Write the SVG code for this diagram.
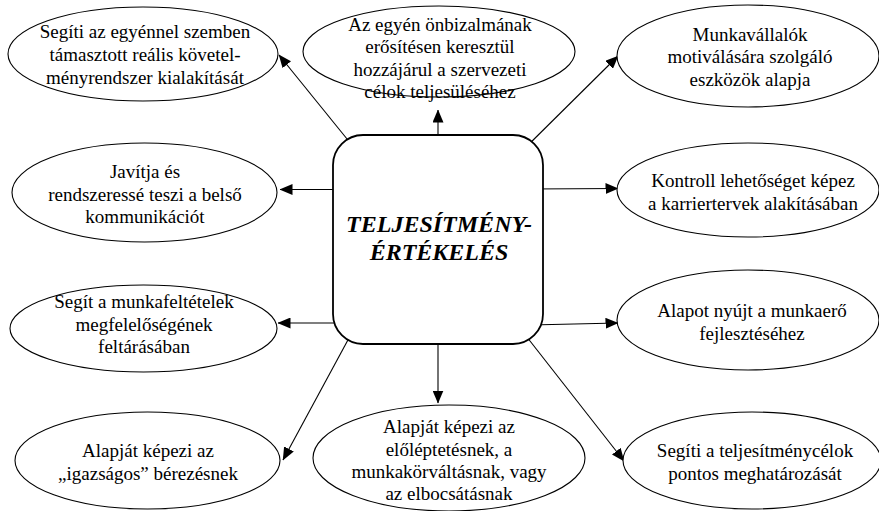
<svg xmlns="http://www.w3.org/2000/svg" width="879" height="511" viewBox="0 0 879 511">
<defs>
<marker id="ah" markerUnits="userSpaceOnUse" markerWidth="13" markerHeight="11" refX="12.5" refY="5.5" orient="auto">
<path d="M0,0 L13,5.5 L0,11 z" fill="#000"/>
</marker>
<style>
.n ellipse{fill:#fff;stroke:#000;stroke-width:1.1}
.n text{font-family:"Liberation Serif","Times New Roman",serif;font-size:19px;fill:#000;text-anchor:middle}
.c line{stroke:#000;stroke-width:1.1;marker-end:url(#ah)}
.box rect{fill:#fff;stroke:#000;stroke-width:1.8}
.box text{font-family:"Liberation Serif","Times New Roman",serif;font-size:24px;font-weight:bold;font-style:italic;fill:#000;text-anchor:middle}
</style>
</defs>
<rect width="879" height="511" fill="#fff"/>
<g id="connectors" class="c">
<line x1="360" y1="155" x2="279" y2="55"/>
<line x1="438" y1="150" x2="438" y2="110"/>
<line x1="515" y1="158" x2="618" y2="56"/>
<line x1="345" y1="189.5" x2="280" y2="189.5"/>
<line x1="530" y1="189" x2="618" y2="188.5"/>
<line x1="345" y1="323" x2="278" y2="323"/>
<line x1="530" y1="325" x2="618" y2="323"/>
<line x1="362" y1="314" x2="283" y2="460"/>
<line x1="438" y1="330" x2="438" y2="403"/>
<line x1="512" y1="318" x2="624" y2="461"/>
</g>
<g id="center" class="box">
<rect x="333" y="135" width="210" height="209" rx="30" ry="30"/>
<text x="439" y="232">TELJESÍTMÉNY-</text>
<text x="439" y="260">ÉRTÉKELÉS</text>
</g>
<g id="n1" class="n">
<ellipse cx="143" cy="54" rx="135" ry="47"/>
<text x="145" y="38">Segíti az egyénnel szemben</text>
<text x="145" y="61">támasztott reális követel-</text>
<text x="145" y="84">ményrendszer kialakítását</text>
</g>
<g id="n2" class="n">
<ellipse cx="439" cy="51.5" rx="136" ry="45.5"/>
<text x="440" y="30.5">Az egyén önbizalmának</text>
<text x="440" y="53">erősítésen keresztül</text>
<text x="440" y="75.5">hozzájárul a szervezeti</text>
<text x="440" y="98">célok teljesüléséhez</text>
</g>
<g id="n3" class="n">
<ellipse cx="748" cy="56" rx="131" ry="51"/>
<text x="750" y="40.5">Munkavállalók</text>
<text x="750" y="63">motiválására szolgáló</text>
<text x="750" y="85.5">eszközök alapja</text>
</g>
<g id="n4" class="n">
<ellipse cx="144.5" cy="192.5" rx="132.5" ry="49.5"/>
<text x="145" y="178">Javítja és</text>
<text x="145" y="200.5">rendszeressé teszi a belső</text>
<text x="145" y="223">kommunikációt</text>
</g>
<g id="n5" class="n">
<ellipse cx="748" cy="190" rx="131" ry="47"/>
<text x="753" y="187">Kontroll lehetőséget képez</text>
<text x="753" y="209.5">a karriertervek alakításában</text>
</g>
<g id="n6" class="n">
<ellipse cx="143.5" cy="328.5" rx="133.5" ry="43.5"/>
<text x="144" y="308">Segít a munkafeltételek</text>
<text x="144" y="330.5">megfelelőségének</text>
<text x="144" y="353">feltárásában</text>
</g>
<g id="n7" class="n">
<ellipse cx="748" cy="320" rx="131" ry="50"/>
<text x="752" y="317">Alapot nyújt a munkaerő</text>
<text x="752" y="340">fejlesztéséhez</text>
</g>
<g id="n8" class="n">
<ellipse cx="147.5" cy="460.5" rx="132.5" ry="48.5"/>
<text x="148" y="457">Alapját képezi az</text>
<text x="148" y="480">„igazságos” bérezésnek</text>
</g>
<g id="n9" class="n">
<ellipse cx="449" cy="458" rx="136" ry="53"/>
<text x="449" y="433">Alapját képezi az</text>
<text x="449" y="455.5">előléptetésnek, a</text>
<text x="449" y="478">munkakörváltásnak, vagy</text>
<text x="449" y="500">az elbocsátásnak</text>
</g>
<g id="n10" class="n">
<ellipse cx="752" cy="460.5" rx="129" ry="48.5"/>
<text x="755" y="457">Segíti a teljesítménycélok</text>
<text x="755" y="480">pontos meghatározását</text>
</g>
</svg>
